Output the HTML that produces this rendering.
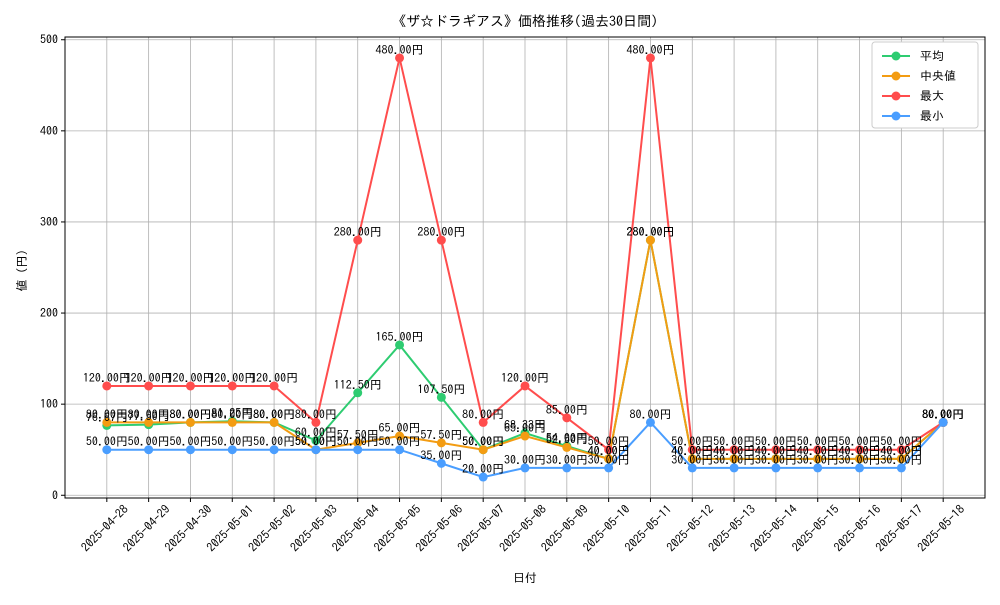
<!DOCTYPE html>
<html><head><meta charset="utf-8"><style>
body{margin:0;background:#fff;}
svg text{font-family:"IPAGothic","Noto Sans CJK JP",sans-serif;}
</style></head><body>
<svg id="c" width="1000" height="600" xmlns="http://www.w3.org/2000/svg"></svg>
<script>
const dates=["2025-04-28","2025-04-29","2025-04-30","2025-05-01","2025-05-02","2025-05-03","2025-05-04","2025-05-05","2025-05-06","2025-05-07","2025-05-08","2025-05-09","2025-05-10","2025-05-11","2025-05-12","2025-05-13","2025-05-14","2025-05-15","2025-05-16","2025-05-17","2025-05-18"];
const avgVals=[76.67,77.5,80,81.25,80,60,112.5,165,107.5,50,68.33,54,40,280,40,40,40,40,40,40,80];
const medianVals=[80,80,80,80,80,50,57.5,65,57.5,50,65,52.5,40,280,40,40,40,40,40,40,80];
const maxVals=[120,120,120,120,120,80,280,480,280,80,120,85,50,480,50,50,50,50,50,50,80];
const minVals=[50,50,50,50,50,50,50,50,35,20,30,30,30,80,30,30,30,30,30,30,80];
const yTicks=[0,100,200,300,400,500];
const seriesNames=["平均","中央値","最大","最小"];
const L=65,R=985,T=37,B=498;
const xMin=-1,xMax=dates.length;
const yMin=-3,yMax=503;
const X=i=>L+(i-xMin)/(xMax-xMin)*(R-L);
const Y=v=>B-(v-yMin)/(yMax-yMin)*(B-T);
const svg=document.getElementById('c');
const NS="http://www.w3.org/2000/svg";
function mk(tag,attrs,parent){const e=document.createElementNS(NS,tag);for(const k in attrs)e.setAttribute(k,attrs[k]);(parent||svg).appendChild(e);return e;}
dates.forEach((d,i)=>{
 const g=mk('line',{x1:X(i),x2:X(i),y1:T,y2:B,stroke:'#b0b0b0','stroke-width':0.8});
 
 
});
yTicks.forEach(v=>{
 const g=mk('line',{x1:L,x2:R,y1:Y(v),y2:Y(v),stroke:'#b0b0b0','stroke-width':0.8});
 
 
 const tk=mk('line',{x1:L-4,x2:L,y1:Y(v),y2:Y(v),stroke:'#000'});
 
 
 const t=mk('text',{x:L-7,y:Y(v)+4,'text-anchor':'end','font-size':12});
 t.textContent=v;
 
 
});
dates.forEach((d,i)=>{
 const tk=mk('line',{x1:X(i),x2:X(i),y1:B,y2:B+4,stroke:'#000'});
 
 
 const t=mk('text',{x:0,y:0,'text-anchor':'end','font-size':12,transform:`translate(${X(i)+22},${B+12}) rotate(-45)`});
 t.textContent=d;
 
 
});
const series=[[avgVals,'#2ecc71','avg'],[medianVals,'#f39c12','median'],[maxVals,'#ff4d4d','max'],[minVals,'#4a9eff','min']];
series.forEach(([vals,col,nm])=>{
 const pl=mk('polyline',{points:vals.map((v,i)=>X(i)+','+Y(v)).join(' '),fill:'none',stroke:col,'stroke-width':2});
 
 
 vals.forEach((v,i)=>{
  const c=mk('circle',{cx:X(i),cy:Y(v),r:4.5,fill:col});
  
  
 });
});
series.forEach(([vals,col,nm])=>{
 vals.forEach((v,i)=>{
  const t=mk('text',{x:X(i),y:Y(v)-4,'text-anchor':'middle','font-size':12});
  t.textContent=v.toFixed(2)+'円';
  
  
 });
});
const frame=mk('rect',{x:L,y:T,width:R-L,height:B-T,fill:'none',stroke:'#000','stroke-width':1});


const title=mk('text',{x:(L+R)/2,y:26,'text-anchor':'middle','font-size':14});
title.textContent='《ザ☆ドラギアス》価格推移(過去30日間)';


const xl=mk('text',{x:(L+R)/2,y:582,'text-anchor':'middle','font-size':12});
xl.textContent='日付';


const yl=mk('text',{x:0,y:0,'text-anchor':'middle','font-size':12,transform:`translate(26,${(T+B)/2}) rotate(-90)`});
yl.textContent='値（円）';


const lg=mk('rect',{x:872,y:42,width:106,height:86,fill:'#fff',stroke:'#ccc',rx:3});


series.forEach(([vals,col,nm],k)=>{
 const y=56+k*20;
 const ln=mk('line',{x1:882,x2:910,y1:y,y2:y,stroke:col,'stroke-width':2});
 
 
 const c=mk('circle',{cx:896,cy:y,r:4.5,fill:col});
 
 
 const t=mk('text',{x:920,y:y+4,'font-size':12});
 t.textContent=seriesNames[k];
 
 
});
</script>
</body></html>
